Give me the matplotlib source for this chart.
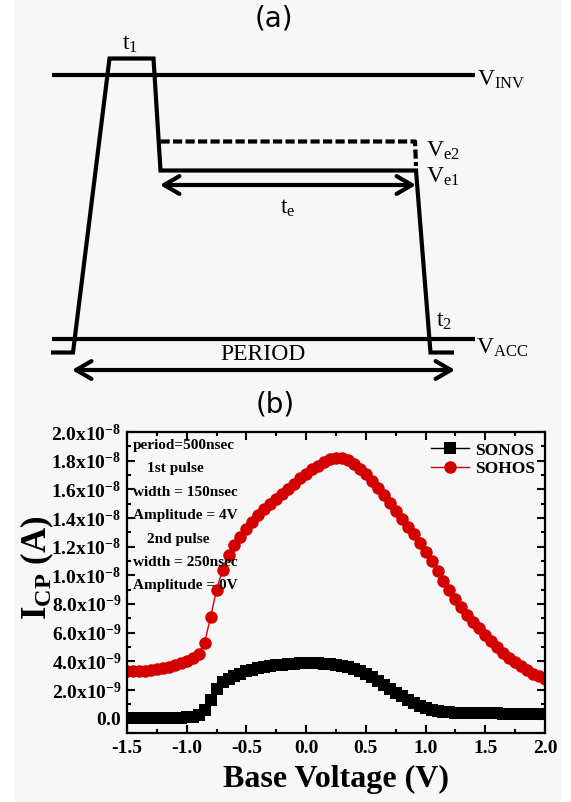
import numpy as np
import matplotlib
matplotlib.use("Agg")
import matplotlib.pyplot as plt
from matplotlib.patches import Rectangle
from matplotlib.ticker import MultipleLocator, FixedLocator, FuncFormatter

plt.rcParams['font.family'] = ['Liberation Serif', 'DejaVu Serif']
plt.rcParams['mathtext.fontset'] = 'custom'
plt.rcParams['mathtext.rm'] = 'Liberation Serif'
plt.rcParams['mathtext.bf'] = 'Liberation Serif:bold'
plt.rcParams['mathtext.default'] = 'rm'
plt.rcParams['axes.unicode_minus'] = False

###################################################################################################
# Data (panel b): charge pumping current, in units of 1e-9 A
###################################################################################################
base_voltage = [-1.50, -1.45, -1.40, -1.35, -1.30, -1.25, -1.20, -1.15, -1.10, -1.05,
                -1.00, -0.95, -0.90, -0.85, -0.80, -0.75, -0.70, -0.65, -0.60, -0.55,
                -0.50, -0.45, -0.40, -0.35, -0.30, -0.25, -0.20, -0.15, -0.10, -0.05,
                0.00, 0.05, 0.10, 0.15, 0.20, 0.25, 0.30, 0.35, 0.40, 0.45,
                0.50, 0.55, 0.60, 0.65, 0.70, 0.75, 0.80, 0.85, 0.90, 0.95,
                1.00, 1.05, 1.10, 1.15, 1.20, 1.25, 1.30, 1.35, 1.40, 1.45,
                1.50, 1.55, 1.60, 1.65, 1.70, 1.75, 1.80, 1.85, 1.90, 1.95,
                2.00]

sonos_icp = [0.05, 0.05, 0.05, 0.05, 0.05, 0.05, 0.05, 0.06, 0.07, 0.08,
             0.10, 0.15, 0.28, 0.60, 1.30, 2.10, 2.55, 2.80, 3.00, 3.15,
             3.30, 3.42, 3.52, 3.60, 3.67, 3.72, 3.76, 3.80, 3.83, 3.85,
             3.86, 3.86, 3.85, 3.82, 3.79, 3.74, 3.68, 3.60, 3.48, 3.32,
             3.13, 2.88, 2.60, 2.35, 2.10, 1.82, 1.55, 1.30, 1.08, 0.90,
             0.75, 0.63, 0.55, 0.50, 0.46, 0.43, 0.41, 0.40, 0.39, 0.38,
             0.38, 0.37, 0.37, 0.36, 0.36, 0.36, 0.35, 0.35, 0.35, 0.35,
             0.35]

sohos_icp = [3.30, 3.31, 3.33, 3.36, 3.40, 3.45, 3.52, 3.62, 3.72, 3.85,
             4.00, 4.20, 4.50, 5.30, 7.10, 9.00, 10.40, 11.40, 12.10, 12.70,
             13.25, 13.75, 14.20, 14.60, 15.00, 15.35, 15.70, 16.05, 16.40, 16.80,
             17.10, 17.40, 17.65, 17.90, 18.10, 18.20, 18.20, 18.05, 17.80, 17.45,
             17.05, 16.60, 16.10, 15.60, 15.05, 14.50, 13.95, 13.40, 12.85, 12.25,
             11.65, 11.00, 10.30, 9.60, 8.95, 8.35, 7.80, 7.25, 6.75, 6.30,
             5.85, 5.40, 5.00, 4.60, 4.25, 3.95, 3.65, 3.40, 3.15, 2.95,
             2.80]

series_names = ['SONOS', 'SOHOS']
note_lines = ['period=500nsec', '1st pulse', 'width = 150nsec', 'Amplitude = 4V',
              '2nd pulse', 'width = 250nsec', 'Amplitude = 0V']
note_indent = [0, 1, 0, 0, 1, 0, 0]

###################################################################################################
# Schematic (panel a): pulse waveform, in pixel units of the top panel
###################################################################################################
wave_x = [51, 73, 109.5, 153.5, 160.5, 416, 430.5, 454]
wave_y = [352.5, 352.5, 58.5, 58.5, 170.5, 170.5, 352.5, 352.5]
ve2_x = [160.5, 415, 416]
ve2_y = [141.5, 141.5, 166]
v_inv_y = 74.5
v_acc_y = 338.5
level_x = [52, 475]

###################################################################################################
# Figure
###################################################################################################
fig = plt.figure(figsize=(5.71, 8.02), dpi=100)
fig.patch.set_facecolor('white')
fig.patches.append(Rectangle((14 / 571, 0), (562 - 14) / 571, 1, transform=fig.transFigure,
                             facecolor='#f7f7f7', edgecolor='none', zorder=-10))

# ---- panel (a) --------------------------------------------------------------------------------
ax_a = fig.add_axes([0, 1 - 400 / 802, 1, 400 / 802])
ax_a.set_xlim(0, 571)
ax_a.set_ylim(400, 0)
ax_a.axis('off')
ax_a.patch.set_alpha(0)

lw = 3.0
ax_a.plot(level_x, [v_inv_y, v_inv_y], color='black', lw=lw, solid_capstyle='butt')
ax_a.plot(level_x, [v_acc_y, v_acc_y], color='black', lw=lw, solid_capstyle='butt')
ax_a.plot(wave_x, wave_y, color='black', lw=lw, solid_joinstyle='miter', solid_capstyle='butt')
ax_a.plot(ve2_x, ve2_y, color='black', lw=lw, ls=(0, (2.2, 0.8)), dash_capstyle='butt')

arrow_style = dict(arrowstyle='<->,head_length=0.55,head_width=0.32', lw=3, color='black',
                   shrinkA=0, shrinkB=0, mutation_scale=20)
ax_a.annotate('', xy=(416, 185), xytext=(160, 185), arrowprops=arrow_style)
ax_a.annotate('', xy=(455, 370), xytext=(72, 370), arrowprops=arrow_style)

fs_a = 17
ax_a.text(130, 44, r'$\mathrm{t_1}$', fontsize=fs_a, ha='center', va='center')
ax_a.text(477, 80, r'$\mathrm{V_{INV}}$', fontsize=fs_a, ha='left', va='center')
ax_a.text(426, 151, r'$\mathrm{V_{e2}}$', fontsize=fs_a, ha='left', va='center')
ax_a.text(426, 177, r'$\mathrm{V_{e1}}$', fontsize=fs_a, ha='left', va='center')
ax_a.text(288, 208, r'$\mathrm{t_e}$', fontsize=fs_a, ha='center', va='center')
ax_a.text(436, 321, r'$\mathrm{t_2}$', fontsize=fs_a, ha='left', va='center')
ax_a.text(476, 348, r'$\mathrm{V_{ACC}}$', fontsize=fs_a, ha='left', va='center')
ax_a.text(263, 355, 'PERIOD', fontsize=fs_a, ha='center', va='center')

fig.text(274 / 571, 1 - 18 / 802, '(a)', family='DejaVu Sans', fontsize=20,
         ha='center', va='center')
fig.text(275 / 571, 1 - 405 / 802, '(b)', family='DejaVu Sans', fontsize=20,
         ha='center', va='center')

# ---- panel (b) --------------------------------------------------------------------------------
ax = fig.add_axes([127 / 571, 1 - 733 / 802, (545 - 127) / 571, (733 - 432) / 802])
ax.patch.set_alpha(0)

v = np.array(base_voltage)
ax.plot(v, np.array(sonos_icp) * 1e-9, color='black', lw=1, marker='s', markersize=8,
        markeredgewidth=0, label=series_names[0])
ax.plot(v, np.array(sohos_icp) * 1e-9, color='#d40000', lw=1, marker='o', markersize=9,
        markeredgewidth=0, label=series_names[1])

ax.set_xlim(-1.5, 2.0)
ax.set_ylim(-1e-9, 2.0e-8)
ax.xaxis.set_major_locator(MultipleLocator(0.5))
ax.xaxis.set_minor_locator(MultipleLocator(0.25))
ax.yaxis.set_major_locator(FixedLocator(np.arange(0, 21, 2) * 1e-9))
ax.yaxis.set_minor_locator(FixedLocator(np.arange(-1, 21, 1) * 1e-9))


def sci_label(val, pos):
    if abs(val) < 1e-12:
        return r'$\mathbf{0.0}$'
    exp = int(np.floor(np.log10(abs(val)) + 1e-9))
    mant = val / 10 ** exp
    return r'$\mathbf{%.1fx10^{%d}}$' % (mant, exp)


ax.yaxis.set_major_formatter(FuncFormatter(sci_label))
ax.xaxis.set_major_formatter(FuncFormatter(lambda x, p: '%.1f' % x))

ax.tick_params(which='both', direction='in', top=True, right=True, width=1.5)
ax.tick_params(which='major', length=6, labelsize=14, pad=5)
ax.tick_params(axis='y', which='major', pad=4)
ax.tick_params(which='minor', length=3)
for lab in ax.get_xticklabels():
    lab.set_fontweight('bold')
for sp in ax.spines.values():
    sp.set_linewidth(1.6)

ax.set_xlabel('Base Voltage (V)', fontsize=23, fontweight='bold')
ax.xaxis.set_label_coords(0.5, -0.105)
ax.xaxis.label.set_va('top')
ax.set_ylabel(r'$\mathbf{I_{CP}}$ (A)', fontsize=25, fontweight='bold')
ax.yaxis.set_label_coords(-0.17, 0.55)

leg = ax.legend(loc='upper right', frameon=False, prop={'weight': 'bold', 'size': 12.5},
                handlelength=2.2, handletextpad=0.3, labelspacing=0.15,
                borderaxespad=0.2)

y0 = 733
for i, line in enumerate(note_lines):
    ypix = 445 + i * 23.5
    xpix = 133 if note_indent[i] == 0 else 147
    ax.text((xpix - 127) / 418, (y0 - ypix) / 301, line, transform=ax.transAxes,
            fontsize=11, fontweight='bold', ha='left', va='center', zorder=10)

fig.savefig('out.png', dpi=100, facecolor=fig.get_facecolor())
